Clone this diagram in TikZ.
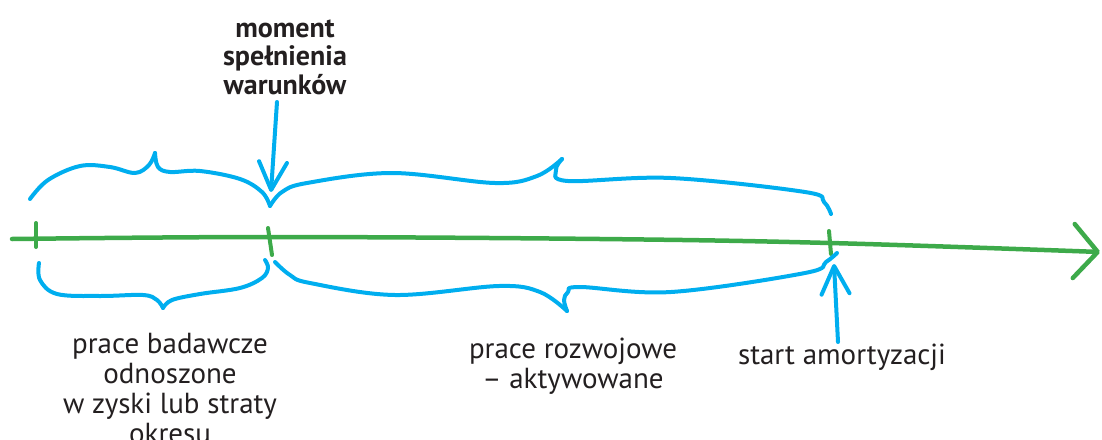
\documentclass[tikz,border=0pt]{standalone}
\usepackage{fontspec}
\setmainfont{PT Sans}
\usetikzlibrary{arrows.meta}
\definecolor{penblue}{HTML}{00AEEF}
\definecolor{pengreen}{HTML}{3DAA4A}
\definecolor{inkgray}{HTML}{231F20}
\tikzset{
  brace/.style={draw=penblue, line width=4pt, line cap=round, line join=round},
  axisline/.style={draw=pengreen, line width=4.5pt, line cap=round, line join=round},
  tick/.style={draw=pengreen, line width=4pt, line cap=round},
  pointer/.style={draw=penblue, line width=4pt, line cap=round, line join=round,
    -{Straight Barb[length=28pt,width=28pt,line cap=round,line join=round]}},
  label/.style={text=inkgray, font=\fontsize{29}{30}\selectfont, align=center, inner sep=0pt},
  boldlabel/.style={label, font=\fontsize{28}{28.5}\selectfont\bfseries},
}
\begin{document}
\begin{tikzpicture}[x=1pt, y=-1pt]
\useasboundingbox (0,0) rectangle (1102,439);

% time axis
\draw[axisline, -{Straight Barb[length=24pt,width=54pt,line cap=round,line join=round]}]
  plot[smooth, tension=0.6] coordinates {(12,239) (270,237) (600,239) (830,243) (1100,252)};

% ticks
\coordinate (t1a) at (36,223); \coordinate (t1b) at (36,247);
\coordinate (t2a) at (268,228); \coordinate (t2b) at (272,255);
\coordinate (t3a) at (829,231); \coordinate (t3b) at (831,254);
\draw[tick] (t1a) -- (t1b);
\draw[tick] (t2a) -- (t2b);
\draw[tick] (t3a) -- (t3b);

% upper braces
\draw[brace] plot[smooth, tension=0.6] coordinates {(30,199) (48,180) (80,166) (110,167) (135,173) (149,165) (155,153)};
\draw[brace] plot[smooth, tension=0.6] coordinates {(155,153) (158,167) (170,172) (200,171) (240,179) (262,192) (270,206)};
\draw[brace] plot[smooth, tension=0.6] coordinates {(270,206) (282,192) (307,183) (392,173) (495,183) (537,176) (562,159)};
\draw[brace] plot[smooth, tension=0.6] coordinates {(562,159) (556,170) (568,181) (671,178) (805,192) (824,202) (831,214)};

% lower braces
\draw[brace] plot[smooth, tension=0.6] coordinates {(39,263) (40,280) (57,294) (100,296) (143,295) (157,300) (163,308)};
\draw[brace] plot[smooth, tension=0.6] coordinates {(163,308) (172,300) (200,294) (240,288) (262,278) (268,268) (265,260)};
\draw[brace] plot[smooth, tension=0.6] coordinates {(275,262) (290,275) (310,283) (395,295) (499,286) (540,292) (567,311)};
\draw[brace] plot[smooth, tension=0.6] coordinates {(567,311) (564,300) (568,292) (580,287) (671,292) (805,273) (826,262) (837,253)};

% labels (base anchor sits on the last line)
\node[boldlabel, anchor=base] (moment) at (285,94) {moment\\spełnienia\\warunków};
\node[label, anchor=base] (research) at (170,443) {prace badawcze\\odnoszone\\w zyski lub straty\\okresu};
\node[label, anchor=base] (development) at (573,388) {prace rozwojowe\\– aktywowane};
\node[label, anchor=base] (amort) at (842,364) {start amortyzacji};

% pointers
\coordinate (mTail) at (277,102);
\coordinate (mTip) at (271,192);
\coordinate (aTail) at (838,342);
\coordinate (aTip) at (834,264);
\draw[pointer] (mTail) -- (mTip);
\draw[pointer] (aTail) -- (aTip);
\end{tikzpicture}
\end{document}
